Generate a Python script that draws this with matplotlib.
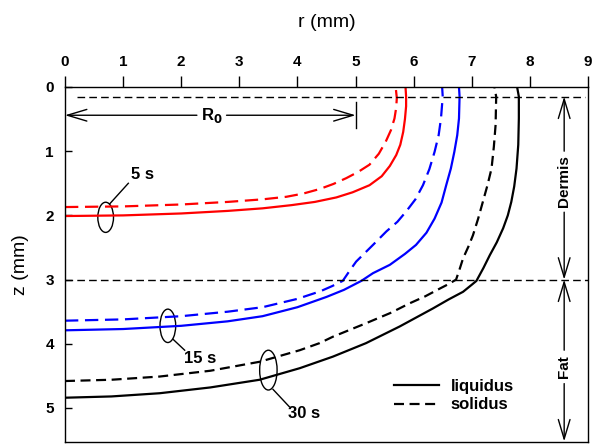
#!/usr/bin/env python3
"""
Liquidus / solidus front positions in skin (dermis over fat) at 5, 15 and 30 s.
"""

import matplotlib
matplotlib.use("Agg")
import matplotlib.pyplot as plt
from matplotlib.patches import Ellipse

# ---------------------------------------------------------------------------
# Data (r in mm, z in mm)
# ---------------------------------------------------------------------------
r_5s_liq = [0.0, 1.0, 2.0, 2.8, 3.4, 3.9, 4.3, 4.67, 4.95, 5.24, 5.45, 5.59, 5.7,
            5.77, 5.82, 5.85, 5.87, 5.87, 5.86]
z_5s_liq = [2.01, 2.0, 1.97, 1.93, 1.89, 1.84, 1.79, 1.72, 1.64, 1.53, 1.39, 1.23, 1.06,
            0.9, 0.7, 0.5, 0.3, 0.15, 0.0]

r_5s_sol = [0.0, 1.0, 2.0, 2.8, 3.4, 3.81, 4.1, 4.38, 4.62, 4.84, 5.05, 5.24, 5.4,
            5.52, 5.61, 5.67, 5.7, 5.71, 5.69]
z_5s_sol = [1.87, 1.86, 1.83, 1.79, 1.75, 1.71, 1.66, 1.59, 1.51, 1.42, 1.32, 1.21, 1.04,
            0.85, 0.67, 0.49, 0.32, 0.17, 0.0]

r_15s_liq = [0.0, 1.0, 2.0, 2.8, 3.4, 4.0, 4.5, 4.8, 5.1, 5.3, 5.59, 5.85, 6.04, 6.22,
             6.36, 6.48, 6.56, 6.64, 6.7, 6.75, 6.78, 6.79, 6.78]
z_15s_liq = [3.79, 3.77, 3.72, 3.65, 3.57, 3.43, 3.27, 3.16, 3.02, 2.9, 2.77, 2.6, 2.46, 2.27,
             2.05, 1.8, 1.53, 1.27, 1.01, 0.75, 0.49, 0.15, 0.0]

r_15s_sol = [0.0, 1.0, 2.0, 2.8, 3.4, 4.0, 4.4, 4.6, 4.78, 4.9, 5.01, 5.3, 5.53, 5.72,
             5.87, 6.03, 6.16, 6.27, 6.36, 6.43, 6.47, 6.5, 6.49]
z_15s_sol = [3.64, 3.62, 3.57, 3.5, 3.43, 3.3, 3.18, 3.1, 3.02, 2.86, 2.72, 2.46, 2.25, 2.1,
             1.94, 1.75, 1.53, 1.28, 1.01, 0.75, 0.49, 0.15, 0.0]

r_30s_liq = [0.0, 0.8, 1.63, 2.5, 3.35, 4.04, 4.61, 5.18, 5.76, 6.33, 6.6, 6.85, 7.0,
             7.08, 7.2, 7.31, 7.43, 7.54, 7.62, 7.68, 7.73, 7.77, 7.8, 7.81, 7.81, 7.78]
z_30s_liq = [4.84, 4.82, 4.77, 4.68, 4.56, 4.38, 4.2, 3.99, 3.73, 3.45, 3.31, 3.19, 3.08,
             3.02, 2.82, 2.62, 2.42, 2.2, 2.0, 1.79, 1.55, 1.27, 0.9, 0.49, 0.15, 0.0]

r_30s_sol = [0.0, 0.8, 1.63, 2.5, 3.35, 4.04, 4.38, 4.61, 5.18, 5.6, 5.93, 6.2, 6.45,
             6.6, 6.73, 6.79, 6.85, 6.94, 7.02, 7.11, 7.19, 7.27, 7.34, 7.38, 7.41, 7.42, 7.39]
z_30s_sol = [4.58, 4.56, 4.51, 4.42, 4.28, 4.1, 3.99, 3.89, 3.68, 3.52, 3.37, 3.26, 3.14,
             3.07, 3.0, 2.84, 2.67, 2.49, 2.31, 2.05, 1.79, 1.53, 1.27, 0.93, 0.59, 0.15, 0.0]

z_skin_top = 0.15      # dashed line near surface
z_dermis_fat = 3.0     # dermis / fat interface
r0 = 5.0               # R0 radius

time_labels = ["5 s", "15 s", "30 s"]

# ---------------------------------------------------------------------------
# Style
# ---------------------------------------------------------------------------
plt.rcParams.update({
    "font.family":      ["Liberation Sans", "DejaVu Sans"],
    "font.size":        11,
    "axes.linewidth":   1.0,
    "figure.facecolor": "white",
    "axes.facecolor":   "white",
})

LW = 1.6
DASH_CURVE = (0, (6, 3))
DASH_LINE = (0, (5.5, 3))

fig = plt.figure(figsize=(6.0, 4.45), dpi=100)
ax = fig.add_axes([0.1083, 0.0067, 0.8717, 0.7978])

# ---- curves -----------------------------------------------------------------
ax.plot(r_5s_liq, z_5s_liq, color="#ff0000", lw=LW)
ax.plot(r_5s_sol, z_5s_sol, color="#ff0000", lw=LW, ls=DASH_CURVE)
ax.plot(r_15s_liq, z_15s_liq, color="#0000ff", lw=LW)
ax.plot(r_15s_sol, z_15s_sol, color="#0000ff", lw=LW, ls=DASH_CURVE)
ax.plot(r_30s_liq, z_30s_liq, color="black", lw=LW, label="liquidus")
ax.plot(r_30s_sol, z_30s_sol, color="black", lw=LW, ls=(0, (4.5, 2.5)), label="solidus")

# ---- layer boundaries -------------------------------------------------------
ax.plot([0.2, 8.95], [z_skin_top, z_skin_top], color="black", lw=1.0, ls=DASH_LINE)
ax.plot([0.0, 9.0], [z_dermis_fat, z_dermis_fat], color="black", lw=1.0, ls=DASH_LINE)

# ---- R0 arrow ---------------------------------------------------------------
arrow_kw = dict(arrowstyle="->,head_length=1.0,head_width=0.3", color="black",
                lw=1.0, shrinkA=0, shrinkB=0, mutation_scale=14)
z_r0 = 0.44
ax.annotate("", xy=(0.0, z_r0), xytext=(2.27, z_r0), arrowprops=arrow_kw,
            annotation_clip=False)
ax.annotate("", xy=(r0, z_r0), xytext=(2.78, z_r0), arrowprops=arrow_kw)
ax.plot([r0, r0], [0.24, 0.64], color="black", lw=1.0)
ax.text(2.52, z_r0, r"R$_{\mathbf{0}}$", ha="center", va="center",
        fontsize=12, fontweight="bold")

# ---- Dermis / Fat annotations ----------------------------------------------
x_layer = 8.59
ax.annotate("", xy=(x_layer, z_skin_top), xytext=(x_layer, 1.0), arrowprops=arrow_kw)
ax.annotate("", xy=(x_layer, z_dermis_fat), xytext=(x_layer, 1.95), arrowprops=arrow_kw)
ax.text(x_layer, 1.47, "Dermis", rotation=90, ha="center", va="center",
        fontsize=11, fontweight="bold")
ax.annotate("", xy=(x_layer, z_dermis_fat), xytext=(x_layer, 4.1), arrowprops=arrow_kw)
ax.annotate("", xy=(x_layer, 5.52), xytext=(x_layer, 4.62), arrowprops=arrow_kw,
            annotation_clip=False)
ax.text(x_layer, 4.36, "Fat", rotation=90, ha="center", va="center",
        fontsize=11, fontweight="bold")

# ---- time labels with ellipses ---------------------------------------------
ellipses = [(0.70, 2.03, 0.27, 0.47), (1.77, 3.72, 0.27, 0.52), (3.50, 4.41, 0.30, 0.62)]
leaders = [((0.77, 1.82), (1.09, 1.50)), ((1.86, 3.93), (2.06, 4.10)),
           ((3.58, 4.71), (3.86, 4.98))]
text_pos = [(1.34, 1.37), (2.32, 4.23), (4.12, 5.08)]
for (ex, ez, ew, eh), (p0, p1), (tx, tz), lab in zip(ellipses, leaders, text_pos, time_labels):
    ax.add_patch(Ellipse((ex, ez), ew, eh, fill=False, ec="black", lw=1.0))
    ax.plot([p0[0], p1[0]], [p0[1], p1[1]], color="black", lw=1.0)
    ax.text(tx, tz, lab, ha="center", va="center", fontsize=12, fontweight="bold")

# ---- legend -----------------------------------------------------------------
leg = ax.legend(loc="upper left", bbox_to_anchor=(0.63, 0.178), frameon=False,
                fontsize=12, handlelength=2.7, handletextpad=0.66, labelspacing=0.22,
                borderpad=0, borderaxespad=0)
for t in leg.get_texts():
    t.set_fontweight("bold")

# ---- axes -------------------------------------------------------------------
ax.set_xlim(0, 9)
ax.set_ylim(5.53, 0)
ax.set_xticks(range(0, 10))
ax.set_yticks(range(0, 6))
ax.xaxis.tick_top()
ax.xaxis.set_label_position("top")
ax.tick_params(axis="x", direction="out", length=8, width=1.0, pad=5,
               top=True, bottom=False, labeltop=True, labelbottom=False)
ax.tick_params(axis="y", direction="in", length=5, width=1.0, pad=8,
               left=True, right=False)
for lab in ax.get_xticklabels() + ax.get_yticklabels():
    lab.set_fontweight("bold")
    lab.set_fontsize(11)
ax.set_xlabel("r (mm)", fontsize=14, labelpad=20)
ax.set_ylabel("z (mm)", fontsize=14, labelpad=12)

fig.savefig("out.png", dpi=100)
